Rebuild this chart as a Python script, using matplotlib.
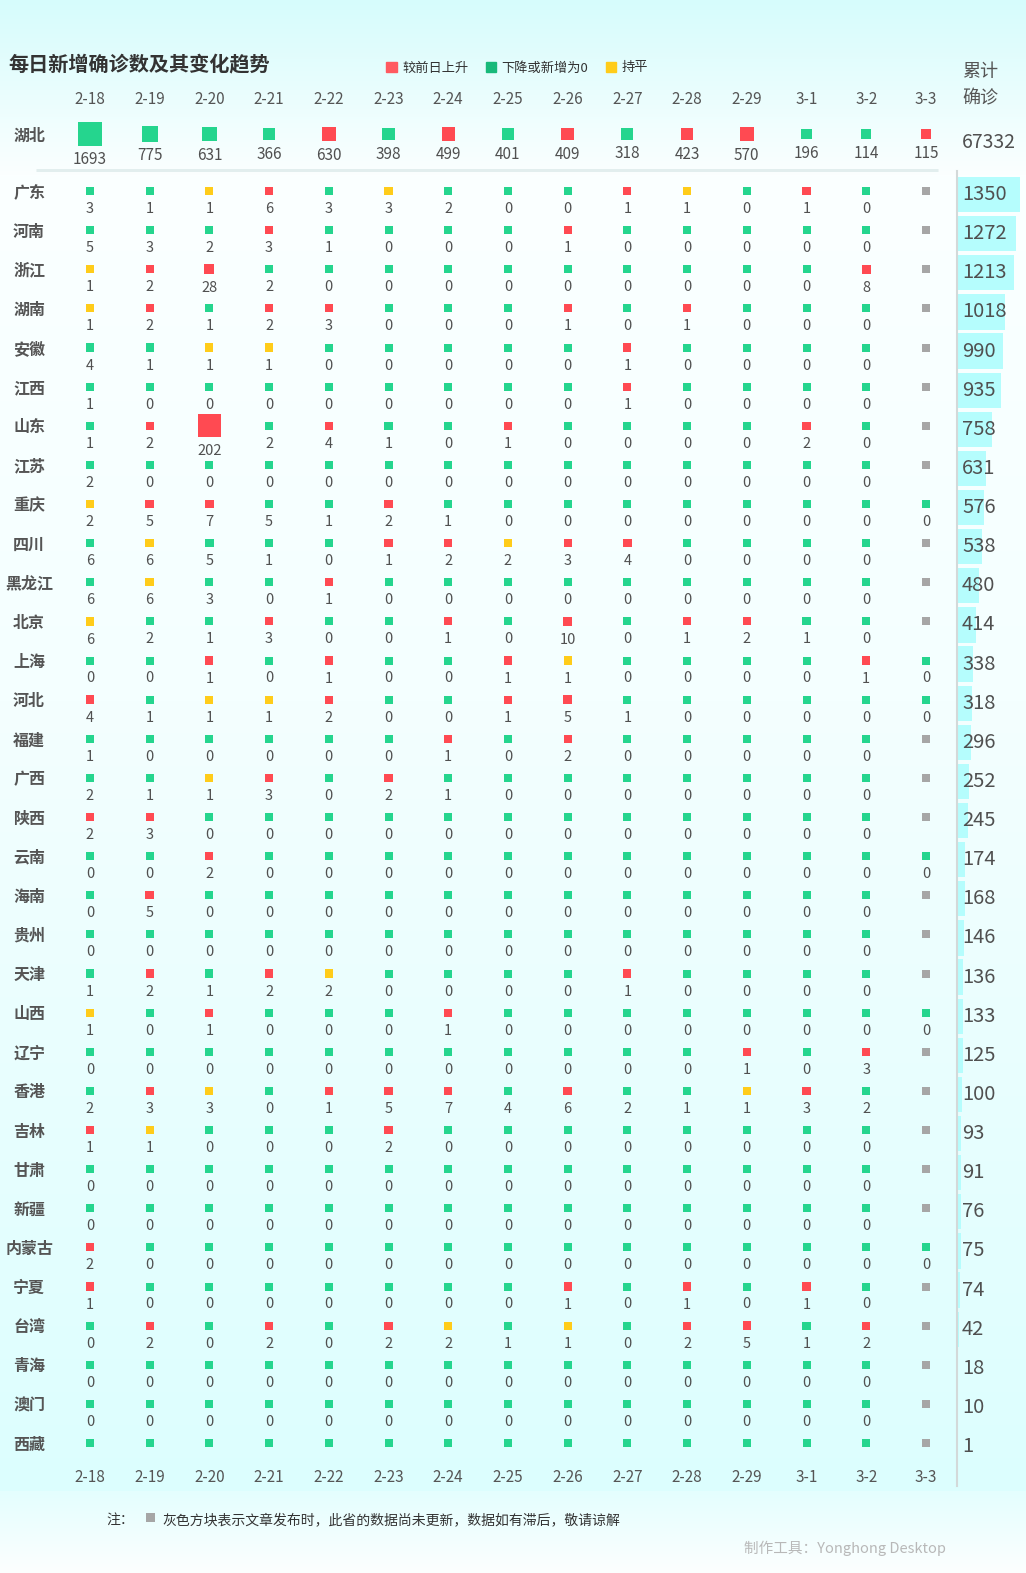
import numpy as np
import matplotlib
matplotlib.use('Agg')
import matplotlib.pyplot as plt
from matplotlib.patches import Patch
from matplotlib.transforms import blended_transform_factory

plt.rcParams['font.family'] = ['Noto Sans CJK SC', 'DejaVu Sans']

# ---- data ----
dates = ['2-18', '2-19', '2-20', '2-21', '2-22', '2-23', '2-24', '2-25',
         '2-26', '2-27', '2-28', '2-29', '3-1', '3-2', '3-3']

hubei_new = [1693, 775, 631, 366, 630, 398, 499, 401, 409, 318, 423, 570, 196, 114, 115]
hubei_first = 'down'
hubei_total = 67332

provinces = ['广东', '河南', '浙江', '湖南', '安徽', '江西', '山东', '江苏', '重庆', '四川',
             '黑龙江', '北京', '上海', '河北', '福建', '广西', '陕西', '云南', '海南', '贵州',
             '天津', '山西', '辽宁', '香港', '吉林', '甘肃', '新疆', '内蒙古', '宁夏', '台湾',
             '青海', '澳门', '西藏']

# None = 数据尚未更新 (gray)
new_cases = [
    [3, 1, 1, 6, 3, 3, 2, 0, 0, 1, 1, 0, 1, 0, None],
    [5, 3, 2, 3, 1, 0, 0, 0, 1, 0, 0, 0, 0, 0, None],
    [1, 2, 28, 2, 0, 0, 0, 0, 0, 0, 0, 0, 0, 8, None],
    [1, 2, 1, 2, 3, 0, 0, 0, 1, 0, 1, 0, 0, 0, None],
    [4, 1, 1, 1, 0, 0, 0, 0, 0, 1, 0, 0, 0, 0, None],
    [1, 0, 0, 0, 0, 0, 0, 0, 0, 1, 0, 0, 0, 0, None],
    [1, 2, 202, 2, 4, 1, 0, 1, 0, 0, 0, 0, 2, 0, None],
    [2, 0, 0, 0, 0, 0, 0, 0, 0, 0, 0, 0, 0, 0, None],
    [2, 5, 7, 5, 1, 2, 1, 0, 0, 0, 0, 0, 0, 0, 0],
    [6, 6, 5, 1, 0, 1, 2, 2, 3, 4, 0, 0, 0, 0, None],
    [6, 6, 3, 0, 1, 0, 0, 0, 0, 0, 0, 0, 0, 0, None],
    [6, 2, 1, 3, 0, 0, 1, 0, 10, 0, 1, 2, 1, 0, None],
    [0, 0, 1, 0, 1, 0, 0, 1, 1, 0, 0, 0, 0, 1, 0],
    [4, 1, 1, 1, 2, 0, 0, 1, 5, 1, 0, 0, 0, 0, 0],
    [1, 0, 0, 0, 0, 0, 1, 0, 2, 0, 0, 0, 0, 0, None],
    [2, 1, 1, 3, 0, 2, 1, 0, 0, 0, 0, 0, 0, 0, None],
    [2, 3, 0, 0, 0, 0, 0, 0, 0, 0, 0, 0, 0, 0, None],
    [0, 0, 2, 0, 0, 0, 0, 0, 0, 0, 0, 0, 0, 0, 0],
    [0, 5, 0, 0, 0, 0, 0, 0, 0, 0, 0, 0, 0, 0, None],
    [0, 0, 0, 0, 0, 0, 0, 0, 0, 0, 0, 0, 0, 0, None],
    [1, 2, 1, 2, 2, 0, 0, 0, 0, 1, 0, 0, 0, 0, None],
    [1, 0, 1, 0, 0, 0, 1, 0, 0, 0, 0, 0, 0, 0, 0],
    [0, 0, 0, 0, 0, 0, 0, 0, 0, 0, 0, 1, 0, 3, None],
    [2, 3, 3, 0, 1, 5, 7, 4, 6, 2, 1, 1, 3, 2, None],
    [1, 1, 0, 0, 0, 2, 0, 0, 0, 0, 0, 0, 0, 0, None],
    [0, 0, 0, 0, 0, 0, 0, 0, 0, 0, 0, 0, 0, 0, None],
    [0, 0, 0, 0, 0, 0, 0, 0, 0, 0, 0, 0, 0, 0, None],
    [2, 0, 0, 0, 0, 0, 0, 0, 0, 0, 0, 0, 0, 0, 0],
    [1, 0, 0, 0, 0, 0, 0, 0, 1, 0, 1, 0, 1, 0, None],
    [0, 2, 0, 2, 0, 2, 2, 1, 1, 0, 2, 5, 1, 2, None],
    [0, 0, 0, 0, 0, 0, 0, 0, 0, 0, 0, 0, 0, 0, None],
    [0, 0, 0, 0, 0, 0, 0, 0, 0, 0, 0, 0, 0, 0, None],
    [0, 0, 0, 0, 0, 0, 0, 0, 0, 0, 0, 0, 0, 0, None],
]

# trend of 2-18 compared with 2-17 (not shown in chart)
first_trend = ['down', 'down', 'flat', 'flat', 'down', 'down', 'down', 'down', 'flat', 'down',
               'down', 'flat', 'down', 'up', 'down', 'down', 'up', 'down', 'down', 'down',
               'down', 'flat', 'down', 'down', 'up', 'down', 'down', 'up', 'up', 'down',
               'down', 'down', 'down']

totals = [1350, 1272, 1213, 1018, 990, 935, 758, 631, 576, 538, 480, 414, 338, 318, 296,
          252, 245, 174, 168, 146, 136, 133, 125, 100, 93, 91, 76, 75, 74, 42, 18, 10, 1]

colors = {'up': '#ff4a52', 'down': '#25d58e', 'flat': '#ffcc1a', 'none': '#a6a6a6'}
legend_colors = {'up': '#ff5a60', 'down': '#18b97a', 'flat': '#ffcc1a'}
txt = '#505050'

W, H = 1026, 1573
PT = 0.72  # px -> pt at dpi 100


def trends(vals, first):
    out = [first]
    for j in range(1, len(vals)):
        v, p = vals[j], vals[j - 1]
        if v is None:
            out.append('none')
        elif v == 0 or v < p:
            out.append('down')
        elif v > p:
            out.append('up')
        else:
            out.append('flat')
    return out


def sizes(vals, smin, smax):
    real = [v for v in vals if v is not None]
    lo, hi = min(real), max(real)
    out = []
    for v in vals:
        if v is None:
            out.append(8)
        else:
            out.append(smin + (smax - smin) * (v - lo) / (hi - lo))
    return out


def px_axes(x0, y0, x1, y1):
    return fig.add_axes([x0 / W, 1 - y1 / H, (x1 - x0) / W, (y1 - y0) / H])


def clean(a):
    a.set_facecolor('none')
    for s in a.spines.values():
        s.set_visible(False)


fig = plt.figure(figsize=(W / 100, H / 100), dpi=100)

# background gradient
bg = fig.add_axes([0, 0, 1, 1])
stops_y = [0, 175, 700, 1490, 1491, 1573]
stops_c = ['#d6fcfc', '#fbffff', '#f4ffff', '#dcfefe', '#e4fefe', '#fdffff']
rgb = np.array([matplotlib.colors.to_rgb(c) for c in stops_c])
yy = np.arange(H)
grad = np.stack([np.interp(yy, stops_y, rgb[:, k]) for k in range(3)], axis=1)
bg.imshow(grad[:, None, :], extent=(0, W, H, 0), aspect='auto')
bg.set_xlim(0, W)
bg.set_ylim(H, 0)
bg.axis('off')
bg.plot([36, 938], [170, 170], color='#e2eeee', lw=3 * PT, solid_capstyle='butt')

ncol = len(dates)
cols = np.arange(ncol)
row_top, row_dy = 191, 39.125
nrow = len(provinces)

# ---- Hubei row ----
axh = px_axes(60.1, 111, 955.8, 157)
clean(axh)
axh.set_xlim(-0.5, ncol - 0.5)
axh.set_ylim(0.5, -0.5)
ht = trends(hubei_new, hubei_first)
hs = sizes(hubei_new, 10, 24)
axh.scatter(cols, np.zeros(ncol), s=[(s * PT) ** 2 for s in hs], marker='s',
            c=[colors[t] for t in ht], linewidths=0, zorder=3, clip_on=False)
for j, v in enumerate(hubei_new):
    axh.annotate(str(v), xy=(j, 0), xytext=(0, -(hs[j] / 2 + 14) * PT),
                 textcoords='offset points', ha='center', va='center',
                 fontsize=11, color=txt, annotation_clip=False)
axh.xaxis.tick_top()
axh.set_xticks(cols, dates)
axh.set_yticks([0], ['湖北'])
axh.tick_params(axis='x', length=0, pad=1.8, labelsize=11, labelcolor='#555555')
axh.tick_params(axis='y', length=0, pad=22.3, labelsize=11.5, labelcolor='#555555')
for lbl in axh.get_yticklabels():
    lbl.set_ha('center')
    lbl.set_fontweight('bold')

# ---- provinces grid ----
ax = px_axes(60.1, row_top - row_dy / 2, 955.8, row_top + (nrow - 0.5) * row_dy)
clean(ax)
ax.set_xlim(-0.5, ncol - 0.5)
ax.set_ylim(nrow - 0.5, -0.5)

all_vals = [v for r in new_cases for v in r if v is not None]
vmax = max(all_vals)
for i, row in enumerate(new_cases):
    tr = trends(row, first_trend[i])
    sz = [8 if v is None else 8 + 15 * v / vmax for v in row]
    ax.scatter(cols, np.full(ncol, i), s=[(s * PT) ** 2 for s in sz], marker='s',
               c=[colors[t] for t in tr], linewidths=0, zorder=3, clip_on=False)
    if i == nrow - 1:
        continue  # 西藏 shows no numbers
    for j, v in enumerate(row):
        if v is None:
            continue
        ax.annotate(str(v), xy=(j, i), xytext=(0, -(sz[j] / 2 + 14) * PT),
                    textcoords='offset points', ha='center', va='center',
                    fontsize=10.5, color=txt, annotation_clip=False)

ax.set_xticks(cols, dates)
ax.set_yticks(range(nrow), provinces)
ax.tick_params(axis='x', length=0, pad=4.6, labelsize=11, labelcolor='#555555')
ax.tick_params(axis='y', length=0, pad=22.3, labelsize=11.5, labelcolor='#555555')
for lbl in ax.get_yticklabels():
    lbl.set_ha('center')
    lbl.set_fontweight('bold')

# ---- cumulative bars ----
axb = px_axes(957, row_top - row_dy / 2, 1026, row_top + (nrow - 0.5) * row_dy)
clean(axb)
axb.set_ylim(nrow - 0.5, -0.5)
axb.set_xlim(0, max(totals) * 69 / 63)
rows = np.arange(nrow) + 0.09
axb.barh(rows, totals, height=0.9, color='#b5fdfd', zorder=1)
tb = blended_transform_factory(axb.transAxes, axb.transData)
for y, t in zip(rows, totals):
    axb.text(5 / 69, y, str(t), transform=tb, ha='left', va='center',
             fontsize=14.5, color=txt, zorder=3)
axb.axvline(0, ymin=-0.018, ymax=1.0, color='#d3d9d9', lw=1.5, clip_on=False)
axb.set_xticks([])
axb.set_yticks([])

# ---- titles & legend ----
fig.text(8 / W, 1 - 64 / H, '每日新增确诊数及其变化趋势', fontsize=14.5,
         fontweight='bold', color='#333333', va='center')
handles = [Patch(color=legend_colors['up'], label='较前日上升'),
           Patch(color=legend_colors['down'], label='下降或新增为0'),
           Patch(color=legend_colors['flat'], label='持平')]
fig.legend(handles=handles, loc='center left', bbox_to_anchor=(386 / W, 1 - 68 / H),
           ncol=3, frameon=False, fontsize=9.5, labelcolor='#333333',
           handlelength=0.82, handleheight=0.82, handletextpad=0.4,
           columnspacing=1.3, borderpad=0, borderaxespad=0)

fig.text(962 / W, 1 - 72 / H, '累计', fontsize=13, color='#555555', va='center')
fig.text(962 / W, 1 - 98 / H, '确诊', fontsize=13, color='#555555', va='center')
fig.text(962 / W, 1 - 142 / H, str(hubei_total), fontsize=14, color=txt, va='center')

# ---- footnote ----
fig.text(106 / W, 1 - 1520 / H, '注：', fontsize=10, color='#333333', va='center')
bg.scatter([150], [1517], s=(9 * PT) ** 2, marker='s', color=colors['none'], linewidths=0)
fig.text(162 / W, 1 - 1520 / H, '灰色方块表示文章发布时，此省的数据尚未更新，数据如有滞后，敬请谅解',
         fontsize=10, color='#333333', va='center')
fig.text(744 / W, 1 - 1548 / H, '制作工具：Yonghong Desktop', fontsize=10.5,
         color='#b8b8b8', va='center')

fig.savefig('out.png', dpi=100)
